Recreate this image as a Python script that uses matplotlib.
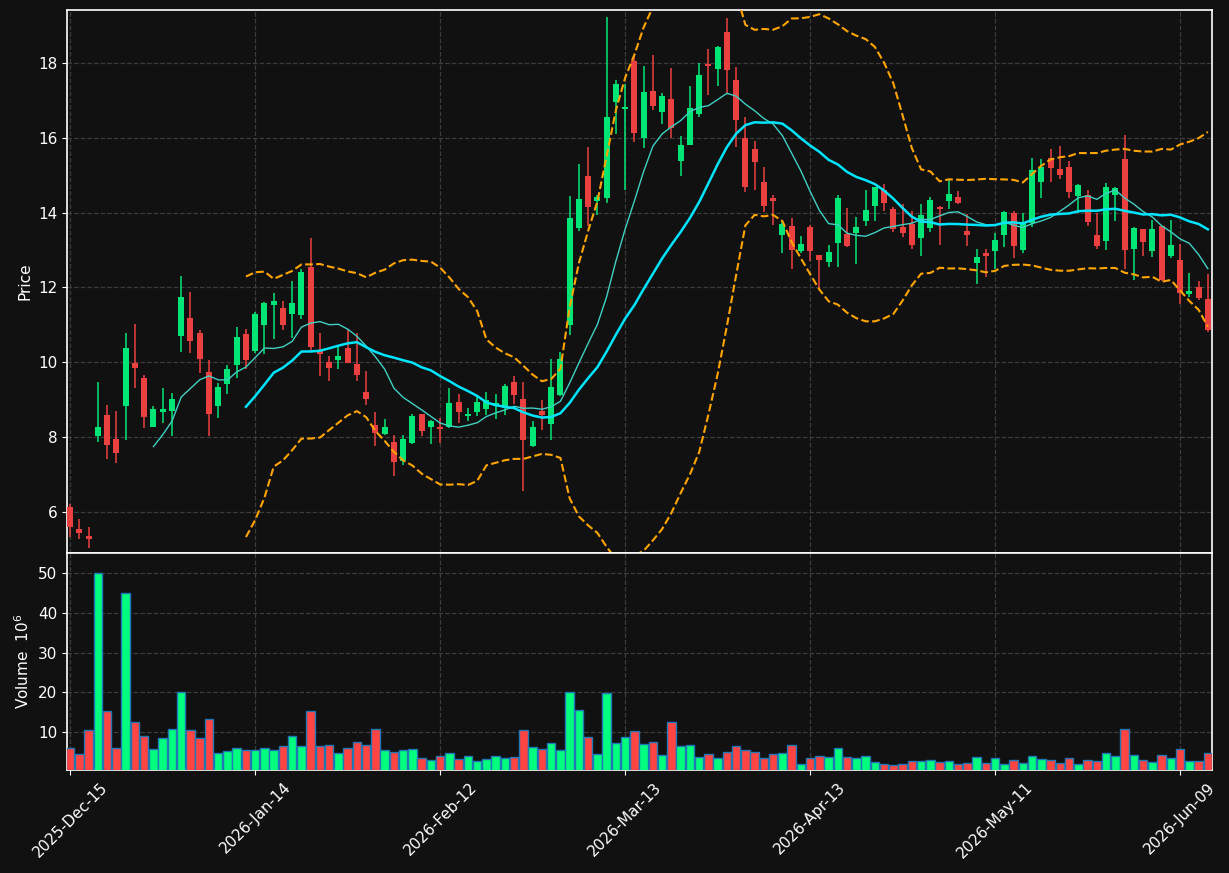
import numpy as np
import pandas as pd
import matplotlib
matplotlib.use("Agg")
import matplotlib.pyplot as plt

# OHLC, one value per trading day (index 0..123)
opens = [6.12, 5.54, 5.35, 8.04, 8.60, 7.94, 8.82, 9.98, 9.58, 8.28,
         8.68, 8.71, 10.69, 11.19, 10.79, 9.75, 8.82, 9.41, 9.94, 10.76,
         10.31, 11.01, 11.54, 11.45, 11.29, 11.26, 12.56, 10.31, 10.01, 10.06,
         10.39, 9.96, 9.20, 8.32, 8.07, 7.88, 7.37, 7.83, 8.63, 8.26,
         8.28, 8.28, 8.94, 8.57, 8.68, 8.74, 8.83, 8.79, 9.48, 9.02,
         7.75, 8.71, 8.34, 9.13, 11.01, 13.60, 14.99, 14.31, 14.39, 16.96,
         16.76, 18.05, 15.99, 17.26, 16.69, 17.05, 15.38, 15.81, 16.63, 17.98,
         17.85, 18.83, 17.56, 16.00, 15.71, 14.81, 14.38, 13.41, 13.64, 12.98,
         13.61, 12.86, 12.68, 13.19, 13.44, 13.47, 13.78, 14.18, 14.62, 14.11,
         13.61, 13.69, 13.32, 13.59, 14.15, 14.31, 14.41, 13.50, 12.65, 12.92,
         12.97, 13.40, 13.98, 13.00, 13.72, 14.83, 15.46, 15.18, 15.23, 14.44,
         14.46, 13.41, 13.23, 14.48, 15.43, 13.03, 13.56, 12.98, 13.65, 12.84,
         12.74, 11.82, 12.01, 11.68]
highs = [6.22, 5.81, 5.59, 9.48, 8.86, 8.69, 10.78, 11.02, 9.67, 8.83,
         9.31, 9.18, 12.30, 11.87, 10.87, 10.06, 9.44, 9.93, 10.94, 10.89,
         11.35, 11.62, 11.84, 11.63, 12.17, 12.49, 13.31, 10.78, 10.18, 10.43,
         10.89, 10.78, 9.76, 8.67, 8.48, 8.05, 8.05, 8.63, 8.63, 8.46,
         8.51, 9.31, 9.16, 8.79, 9.08, 9.20, 9.16, 9.41, 9.62, 9.48,
         8.42, 9.00, 10.08, 10.27, 14.44, 15.31, 15.76, 14.48, 19.22, 17.54,
         17.44, 18.20, 17.92, 18.23, 17.21, 17.86, 16.06, 17.40, 18.00, 18.37,
         18.46, 19.20, 17.89, 16.56, 15.92, 15.22, 14.48, 13.79, 13.85, 13.39,
         13.67, 12.86, 13.14, 14.48, 14.13, 13.88, 14.62, 14.69, 14.76, 14.16,
         14.24, 14.05, 14.24, 14.41, 14.19, 14.90, 14.59, 13.97, 13.04, 13.02,
         13.46, 14.04, 14.04, 14.00, 15.46, 15.43, 15.70, 15.78, 15.39, 14.76,
         14.62, 13.99, 14.79, 14.69, 16.07, 13.63, 13.56, 13.80, 13.65, 13.81,
         13.17, 12.40, 12.17, 12.35]
lows = [5.33, 5.28, 5.04, 7.86, 7.42, 7.31, 7.93, 9.31, 8.25, 8.26,
        8.37, 8.02, 10.27, 10.24, 9.71, 8.02, 8.51, 9.14, 9.57, 9.81,
        10.25, 10.22, 10.61, 10.85, 10.64, 11.15, 10.31, 9.62, 9.50, 9.81,
        9.99, 9.50, 8.85, 7.77, 8.05, 6.96, 7.24, 7.81, 8.02, 7.81,
        7.83, 8.23, 8.37, 8.42, 8.56, 8.60, 8.48, 8.60, 8.88, 6.56,
        7.74, 8.19, 7.93, 9.11, 10.73, 13.50, 13.65, 13.93, 14.27, 16.10,
        14.62, 15.89, 15.73, 16.75, 16.36, 16.01, 14.97, 15.80, 16.56, 17.15,
        17.38, 17.21, 15.76, 14.56, 14.60, 14.02, 13.67, 12.91, 12.50, 12.91,
        12.72, 11.98, 12.54, 12.54, 13.09, 12.63, 13.65, 13.79, 14.05, 13.49,
        13.36, 13.02, 12.84, 13.49, 13.14, 14.11, 14.23, 13.11, 12.10, 12.29,
        12.49, 13.09, 12.80, 12.91, 13.63, 14.39, 14.81, 14.90, 14.39, 13.99,
        13.65, 13.02, 13.00, 13.79, 12.49, 12.21, 12.84, 12.81, 12.17, 12.80,
        11.56, 11.75, 11.66, 10.82]
closes = [5.59, 5.43, 5.27, 8.28, 7.79, 7.58, 10.39, 9.85, 8.53, 8.76,
          8.76, 9.03, 11.74, 10.58, 10.10, 8.61, 9.34, 9.82, 10.68, 10.07,
          11.29, 11.58, 11.63, 11.00, 11.58, 12.42, 10.41, 10.22, 9.85, 10.18,
          9.99, 9.67, 9.02, 8.11, 8.28, 7.33, 7.95, 8.56, 8.17, 8.44,
          8.22, 8.91, 8.68, 8.63, 8.94, 9.00, 8.91, 9.37, 9.13, 7.91,
          8.28, 8.60, 9.34, 10.08, 13.85, 14.37, 14.15, 14.41, 16.56, 17.44,
          16.83, 16.13, 17.23, 16.84, 17.12, 16.26, 15.81, 16.80, 17.69, 17.91,
          18.44, 17.82, 16.49, 14.69, 15.35, 14.18, 14.32, 13.71, 13.00, 13.16,
          12.98, 12.74, 12.94, 14.38, 13.10, 13.61, 14.08, 14.68, 14.25, 13.57,
          13.45, 13.14, 13.94, 14.35, 14.09, 14.51, 14.25, 13.41, 12.82, 12.83,
          13.26, 14.01, 13.10, 13.76, 15.13, 15.22, 15.20, 15.02, 14.55, 14.75,
          13.74, 13.10, 14.70, 14.65, 13.00, 13.58, 13.22, 13.56, 12.21, 13.13,
          11.84, 11.91, 11.72, 10.87]
# volume in millions
volumes = [6.0, 4.5, 10.5, 50.0, 15.3, 6.0, 45.0, 12.5, 9.0, 5.7,
           8.5, 10.75, 20.0, 10.5, 8.5, 13.3, 4.75, 5.25, 6.0, 5.5,
           5.5, 6.0, 5.5, 6.5, 9.0, 6.5, 15.3, 6.5, 6.75, 4.75,
           6.0, 7.5, 6.75, 10.75, 5.5, 5.0, 5.5, 5.7, 3.5, 3.0,
           4.0, 4.75, 3.25, 4.0, 2.75, 3.25, 4.0, 3.5, 3.75, 10.5,
           6.25, 5.7, 7.25, 5.5, 20.0, 15.5, 8.75, 4.5, 19.8, 7.25,
           8.75, 10.25, 7.0, 7.5, 4.25, 12.5, 6.5, 6.75, 3.75, 4.5,
           3.5, 5.0, 6.5, 5.5, 5.0, 3.5, 4.5, 4.75, 6.75, 2.0,
           3.5, 4.0, 3.75, 6.0, 3.75, 3.5, 4.0, 2.5, 2.0, 1.75,
           2.0, 2.75, 2.75, 3.0, 2.5, 2.75, 2.0, 2.25, 3.75, 2.25,
           3.5, 2.0, 3.0, 2.25, 4.0, 3.25, 3.0, 2.25, 3.5, 2.0,
           3.0, 2.75, 4.75, 4.0, 10.75, 4.25, 3.0, 2.5, 4.25, 3.5,
           5.7, 2.75, 2.75, 4.75]

tick_pos = [0, 20, 40, 60, 80, 100, 120]
tick_labels = ["2025-Dec-15", "2026-Jan-14", "2026-Feb-12", "2026-Mar-13",
               "2026-Apr-13", "2026-May-11", "2026-Jun-09"]

bg = "#111111"
fg = "#ffffff"
up_c, dn_c = "#00e676", "#ea4040"
vup_c, vdn_c = "#00ff7f", "#ff4444"

o = np.array(opens); h = np.array(highs); l = np.array(lows); c = np.array(closes)
v = np.array(volumes)
x = np.arange(len(c))
up = c >= o

s = pd.Series(c)
ma10 = s.rolling(10).mean()
ma20 = s.rolling(20).mean()
sd20 = s.rolling(20).std(ddof=0)
bb_up = ma20 + 2 * sd20
bb_lo = ma20 - 2 * sd20

plt.rcParams['font.family'] = ['DejaVu Sans']
fig = plt.figure(figsize=(12.29, 8.73), dpi=100, facecolor=bg)
ax = fig.add_axes([67 / 1229, 1 - 553 / 873, (1212 - 67) / 1229, 543 / 873])
axv = fig.add_axes([67 / 1229, 1 - 770 / 873, (1212 - 67) / 1229, 217 / 873], sharex=ax)

for a in (ax, axv):
    a.set_facecolor(bg)
    for sp in a.spines.values():
        sp.set_color(fg)
        sp.set_linewidth(1.2)
    a.tick_params(colors=fg, labelsize=11)
    a.grid(True, color="#3c3c3c", linestyle="--", linewidth=0.9)
    a.set_axisbelow(True)

# candles
cols = np.where(up, up_c, dn_c)
ax.vlines(x, l, h, colors=cols, linewidth=1.1, zorder=2)
body_bot = np.minimum(o, c)
body_h = np.maximum(np.abs(c - o), 0.04)
ax.bar(x, body_h, bottom=body_bot, width=0.65, color=cols, linewidth=0, zorder=3)

ax.plot(x, ma10, color="#40d0c4", linewidth=1.0, zorder=4)
ax.plot(x, ma20, color="#00e5ff", linewidth=1.8, zorder=4)
ax.plot(x, bb_up, color="orange", linestyle="--", linewidth=1.5, zorder=4)
ax.plot(x, bb_lo, color="orange", linestyle="--", linewidth=1.5, zorder=4)

ax.set_ylim(l.min() - 0.14, h.max() + 0.2)
ax.set_yticks([6, 8, 10, 12, 14, 16, 18])
ax.set_ylabel("Price", color=fg, fontsize=11)
plt.setp(ax.get_xticklabels(), visible=False)

# volume
vcols = np.where(up, vup_c, vdn_c)
axv.bar(x, v, width=0.92, color=vcols, edgecolor="#1f77b4", linewidth=1.0, zorder=3)
axv.set_ylim(0.3 * v.min(), 1.1 * v.max())
axv.set_yticks([10, 20, 30, 40, 50])
axv.set_ylabel("Volume  $10^6$", color=fg, fontsize=11)

axv.set_xlim(-0.35, 123.45)
axv.set_xticks(tick_pos)
axv.set_xticklabels(tick_labels, rotation=45, ha="center")

fig.savefig("out.png", facecolor=bg)
